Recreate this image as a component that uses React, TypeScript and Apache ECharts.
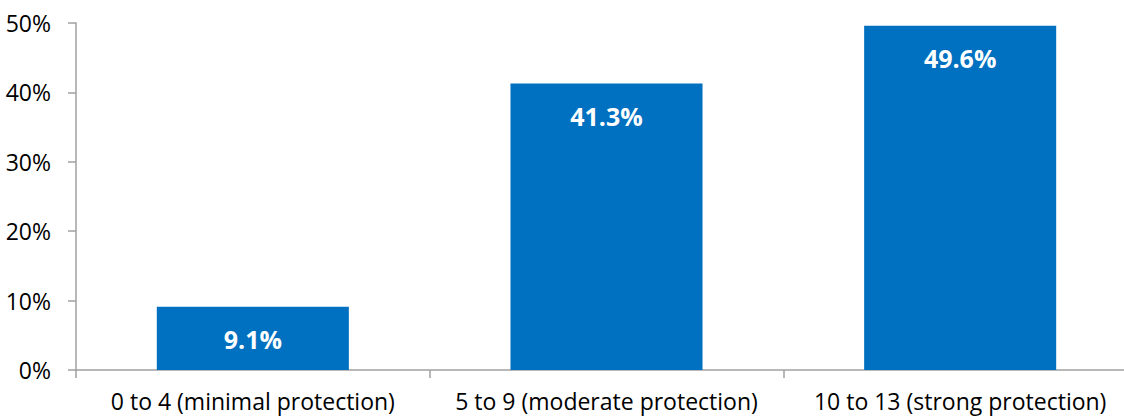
import React, { useEffect, useRef } from "react";
import * as echarts from "echarts";

// Protection score groups and the share of respondents in each
const categories: string[] = [
  "0 to 4 (minimal protection)",
  "5 to 9 (moderate protection)",
  "10 to 13 (strong protection)",
];
const shares: number[] = [9.1, 41.3, 49.6];

// Value axis range, in percent
const axisMin = 0;
const axisMax = 50;
const axisStep = 10;

const FONT = "'Open Sans', 'Noto Sans', sans-serif";
const BAR_BLUE = "#0070C0";
const AXIS_GREY = "#A0A0A0";

export default function App() {
  const ref = useRef<HTMLDivElement>(null);

  useEffect(() => {
    if (!ref.current) return;
    const chart = echarts.init(ref.current, undefined, { renderer: "svg" });
    chart.setOption({
      animation: false,
      backgroundColor: "#ffffff",
      // the plot runs past the right edge of the visible frame
      grid: { left: 76, top: 23, right: 0, bottom: 46, containLabel: false },
      xAxis: {
        type: "category",
        data: categories,
        axisLine: { show: true, lineStyle: { color: AXIS_GREY, width: 1.5 } },
        axisTick: { show: true, length: 8, alignWithLabel: false, lineStyle: { color: AXIS_GREY, width: 1.5 } },
        axisLabel: {
          color: "#000000",
          fontFamily: FONT,
          fontSize: 23,
          lineHeight: 26,
          margin: 18,
          interval: 0,
        },
        splitLine: { show: false },
      },
      yAxis: {
        type: "value",
        min: axisMin,
        max: axisMax,
        interval: axisStep,
        axisLine: { show: true, lineStyle: { color: AXIS_GREY, width: 1.5 } },
        axisTick: { show: true, length: 8, lineStyle: { color: AXIS_GREY, width: 1.5 } },
        axisLabel: {
          color: "#000000",
          fontFamily: FONT,
          fontSize: 23,
          margin: 25,
          formatter: "{value}%",
        },
        splitLine: { show: false },
      },
      series: [
        {
          type: "bar",
          data: shares,
          barWidth: "54.3%",
          itemStyle: { color: BAR_BLUE },
          label: {
            show: true,
            position: "insideTop",
            distance: 20,
            color: "#ffffff",
            fontFamily: FONT,
            fontWeight: "bold",
            fontSize: 25,
            formatter: (p: any) => `${Number(p.value).toFixed(1)}%`,
          },
        },
      ],
    });
    return () => chart.dispose();
  }, []);

  return (
    <div
      style={{
        position: "absolute",
        left: 0,
        top: 0,
        width: 1124,
        height: 416,
        overflow: "hidden",
        background: "#ffffff",
      }}
    >
      <div ref={ref} style={{ width: 1137, height: 416 }} />
    </div>
  );
}
